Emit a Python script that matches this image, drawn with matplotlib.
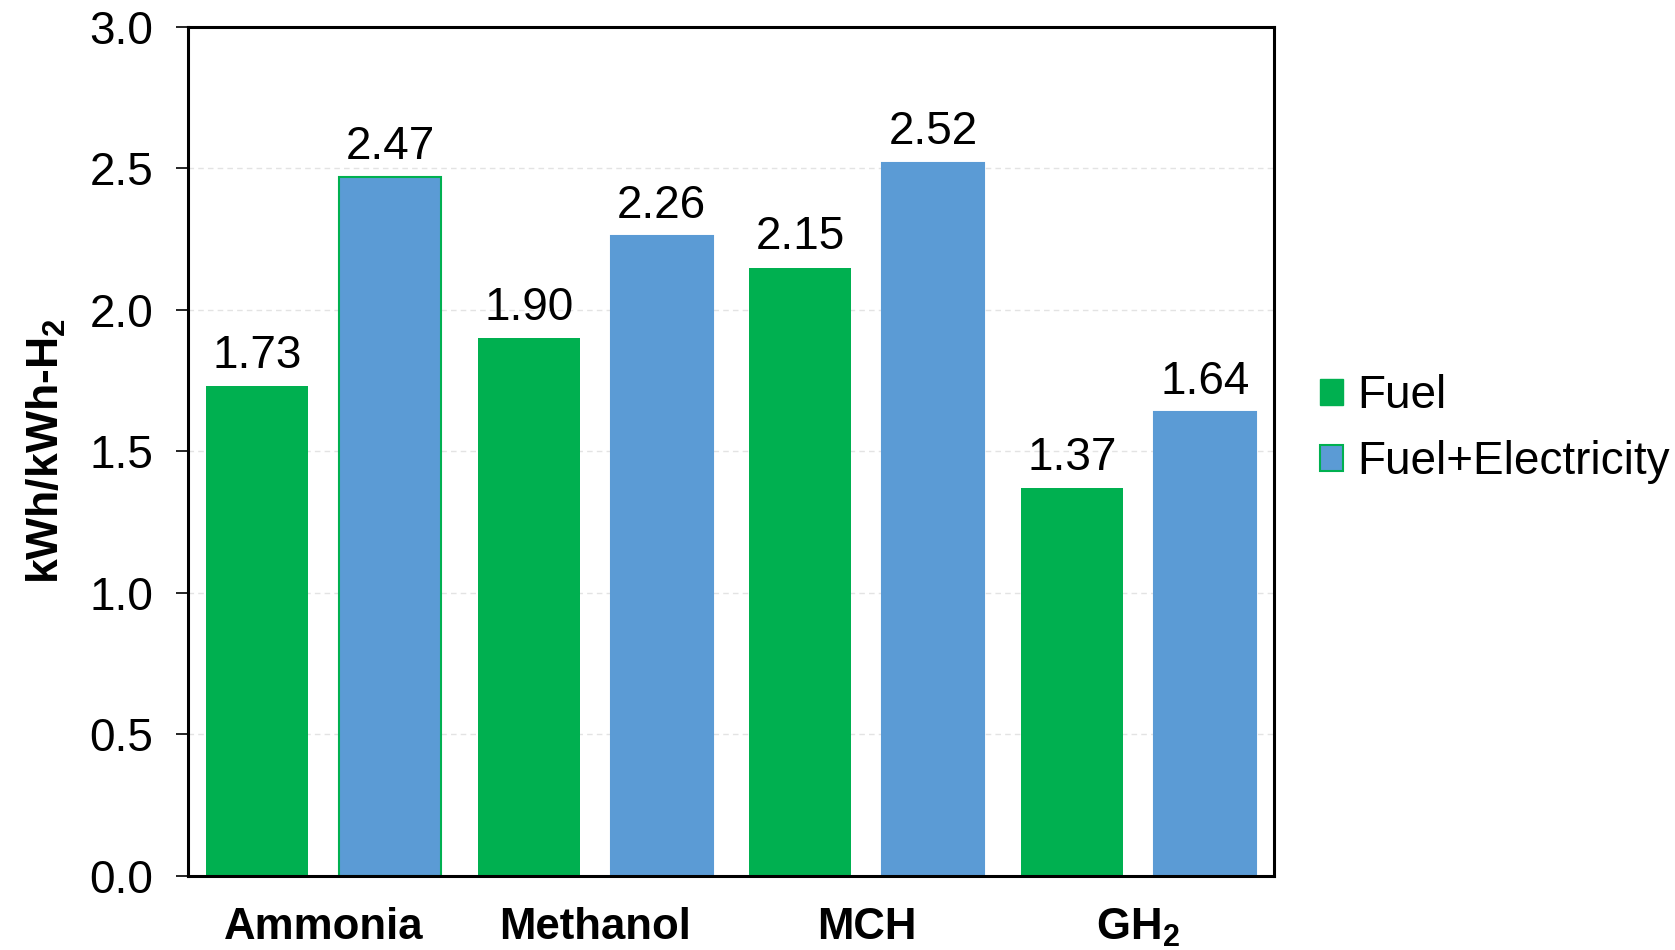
import matplotlib
matplotlib.use("Agg")
import matplotlib.pyplot as plt
from matplotlib.patches import Patch
import numpy as np

plt.rcParams["font.family"] = ["Liberation Sans", "DejaVu Sans"]
plt.rcParams["mathtext.fontset"] = "custom"
plt.rcParams["mathtext.rm"] = "Liberation Sans"
plt.rcParams["mathtext.bf"] = "Liberation Sans:bold"
plt.rcParams["mathtext.default"] = "bf"

carriers = ["Ammonia", "Methanol", "MCH", "GH$_2$"]
fuel = [1.73, 1.90, 2.15, 1.37]
fuel_elec = [2.47, 2.26, 2.52, 1.64]

GREEN = "#00B050"
BLUE = "#5B9BD5"
FS = 33

fig = plt.figure(figsize=(16.75, 9.5), dpi=100)
ax = fig.add_axes([0.1122, 0.0779, 0.6484, 0.8937])

x = np.arange(len(carriers))
width = 0.375
off = 0.245

ax.bar(x - off, fuel, width, color=GREEN, zorder=3)
# first blue bar carries a green outline
edges = [GREEN] + [BLUE] * (len(carriers) - 1)
ax.bar(x + off, fuel_elec, width, color=BLUE, edgecolor=edges, linewidth=1.5, zorder=3)

for xi, v in zip(x - off, fuel):
    ax.annotate(f"{v:.2f}", (xi, v), xytext=(0, 6), textcoords="offset points",
                ha="center", va="bottom", fontsize=FS)
for xi, v in zip(x + off, fuel_elec):
    ax.annotate(f"{v:.2f}", (xi, v), xytext=(0, 6), textcoords="offset points",
                ha="center", va="bottom", fontsize=FS)

ax.set_xlim(-0.5, 3.5)
ax.set_ylim(0, 3.0)
ax.set_yticks(np.arange(0, 3.01, 0.5))
ax.set_yticklabels([f"{t:.1f}" for t in np.arange(0, 3.01, 0.5)])
ax.set_xticks(x)
ax.set_xticklabels(carriers, fontweight="bold")

ax.tick_params(axis="y", labelsize=FS, length=9, width=1.2, direction="out", pad=16)
ax.tick_params(axis="x", labelsize=31.5, length=0, pad=22)

for sp in ax.spines.values():
    sp.set_linewidth(2.2)
    sp.set_zorder(4)

ax.yaxis.grid(True, color="#e3e3e3", linestyle=(0, (4, 3)), linewidth=1.0, zorder=0)

ax.set_ylabel("kWh/kWh-H$_2$", fontsize=32, fontweight="bold")
ax.yaxis.set_label_coords(-0.11, 0.5)

handles = [Patch(facecolor=GREEN, edgecolor=GREEN, label="Fuel"),
           Patch(facecolor=BLUE, edgecolor=GREEN, linewidth=1.5, label="Fuel+Electricity")]
fig.legend(handles=handles, loc="center left", bbox_to_anchor=(0.788, 0.548),
           frameon=False, fontsize=FS, handlelength=0.5, handleheight=0.5,
           handletextpad=0.32, labelspacing=0.48, borderaxespad=0, borderpad=0)

fig.savefig("out.png", dpi=100)
